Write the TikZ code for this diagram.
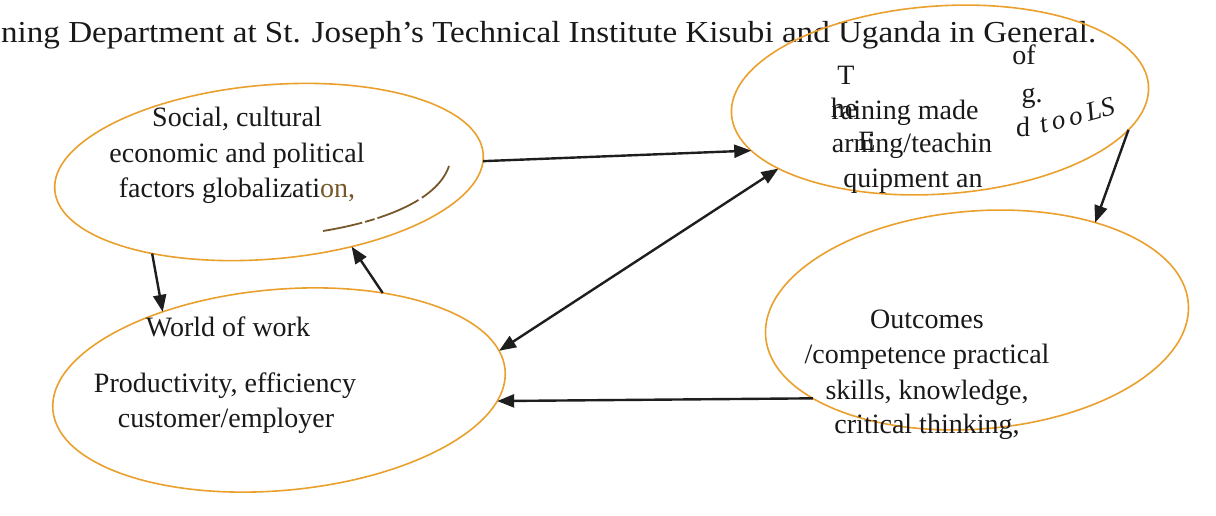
\documentclass[tikz,border=0pt]{standalone}
\usepackage{fontspec}
\setmainfont{Liberation Serif}
\usetikzlibrary{shapes.geometric,arrows.meta}
\definecolor{ovalc}{RGB}{234,160,45}
\definecolor{arrc}{RGB}{30,30,30}
\definecolor{txtc}{RGB}{25,25,25}
\definecolor{brownc}{RGB}{118,88,42}
\tikzset{
  oval/.style={ellipse, draw=ovalc, line width=1.6pt, inner sep=0pt, outer sep=0pt},
  lbl/.style={anchor=base, inner sep=0pt, text=txtc, font=\fontsize{28}{34}\selectfont},
  arr/.style={-{Triangle[length=17pt,width=13pt]}, line width=2.4pt, draw=arrc},
  darr/.style={{Triangle[length=17pt,width=13pt]}-{Triangle[length=17pt,width=13pt]}, line width=2.4pt, draw=arrc},
}
\begin{document}
\begin{tikzpicture}[x=1pt,y=-1pt]
\useasboundingbox (0,0) rectangle (1216,516);
\fill[white] (0,0) rectangle (1216,516);

% title fragment
\node[anchor=base west, inner sep=0pt, text=txtc, font=\fontsize{30.5}{36}\selectfont] (title) at (1,43)
  {\scalebox{1.085}[1]{ning Department at St. Joseph’s Technical Institute Kisubi and Uganda in General.}};

% ellipses
\node[oval, minimum width=430pt, minimum height=174pt, rotate=4.9] (soc) at (269,172) {};
\node[oval, minimum width=454pt, minimum height=201pt, rotate=5.1] (world) at (279,390) {};
\node[oval, minimum width=418pt, minimum height=188pt, rotate=4] (tr) at (940,100) {};
\node[oval, minimum width=424pt, minimum height=218pt, rotate=4.5] (out) at (977,320) {};

% social text
\node[lbl] (s1) at (237,127) {Social, cultural};
\node[lbl] (s2) at (237,163) {economic and political};
\node[lbl] (s3) at (237,197) {factors globalizati\textcolor{brownc}{on,}};
\draw[brownc, line width=1.8pt, dash pattern=on 40pt off 3pt on 10pt off 3pt on 45pt off 4pt on 60pt]
  (323,231) .. controls (378,222) and (437,202) .. (449,166);

% world text
\node[lbl] (w1) at (228,336) {World of work};
\node[lbl] (w2) at (225,392) {Productivity, efficiency};
\node[lbl] (w3) at (226,427) {customer/employer};

% outcomes text
\node[lbl] (o1) at (927,328) {Outcomes};
\node[lbl] (o2) at (927,363) {/competence practical};
\node[lbl] (o3) at (927,399) {skills, knowledge,};
\node[lbl] (o4) at (927,433) {critical thinking,};

% top-right text (overlapping fragments, as printed)
\node[lbl] (t1) at (846,85) {T};
\node[lbl] (t2) at (905,120) {raining made};
\node[lbl] (t3) at (844,118) {he};
\node[lbl] (t4) at (912,153) {arning/teachin};
\node[lbl] (t5) at (867,150) {E};
\node[lbl] (t6) at (913,187) {quipment an};
\node[lbl] (t7) at (1024,65) {of};
\node[lbl] (t8) at (1032,103) {g.};
\node[lbl] (t9) at (1023,137) {d};
\node[anchor=base west, inner sep=0pt, text=txtc, rotate=15,
      font=\fontsize{27}{30}\selectfont\itshape] (t10) at (1042,134) {t\,o\,o\,LS};

% connectors
\draw[arr] (soc.-2) -- (tr.191);
\draw[darr] (tr.199) -- (world.5);
\draw[arr] (tr.-13) -- (out.35);
\draw[arr] (out.201) -- (world.-8);
\draw[arr] (soc.210) -- (world.141);
\draw[arr] (world.38) -- (soc.-47);
\end{tikzpicture}
\end{document}
